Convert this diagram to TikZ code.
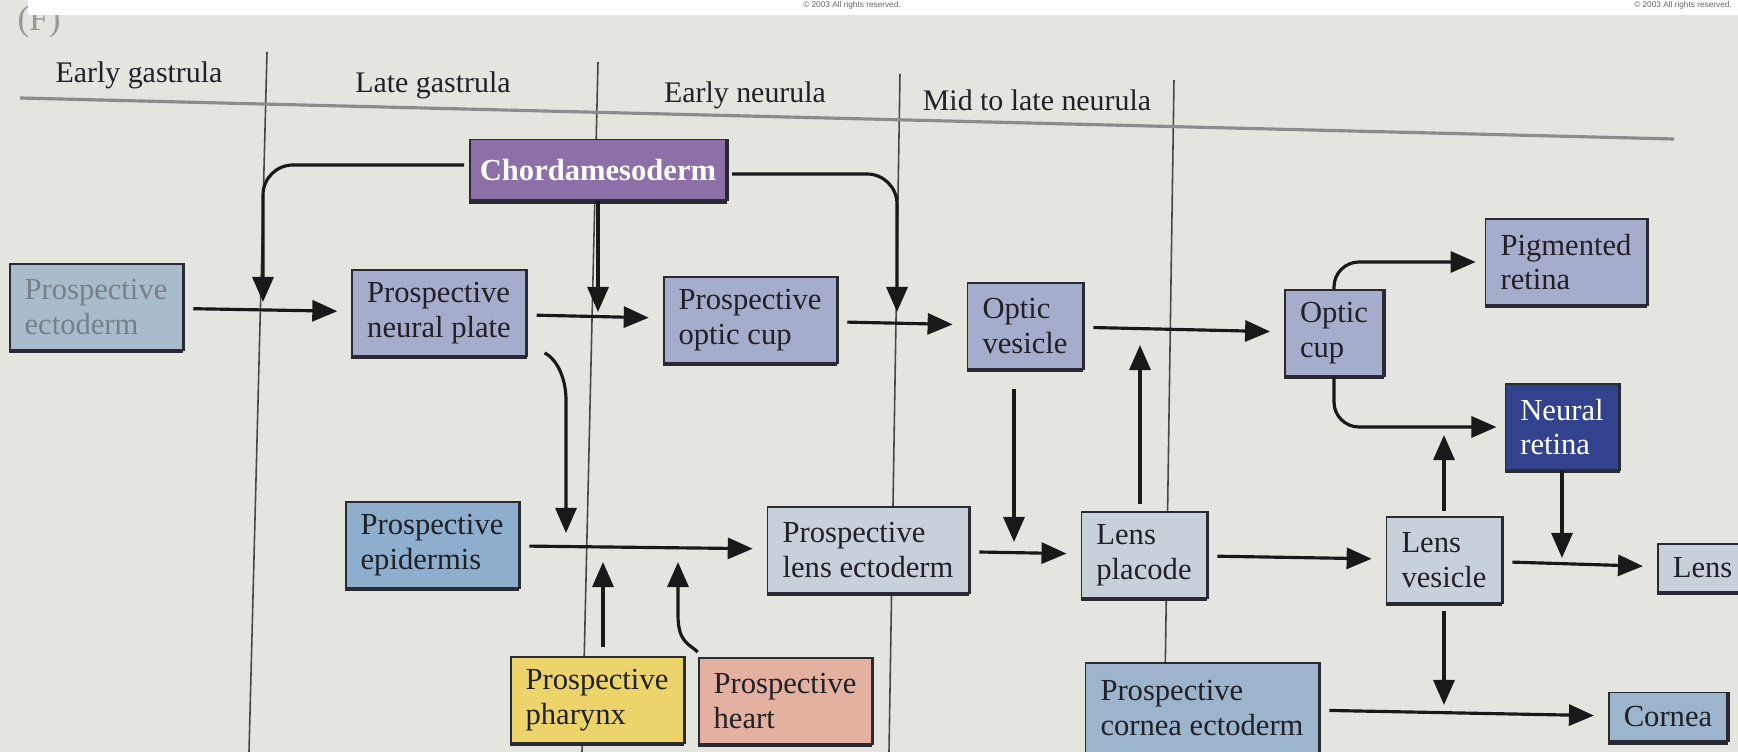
\documentclass[tikz,border=0pt]{standalone}
\usepackage{fontspec}
\setmainfont{Liberation Serif}
\newfontfamily\notefont{Liberation Sans}
\usetikzlibrary{arrows.meta}

\definecolor{paper}{RGB}{228,229,223}
\definecolor{edge}{RGB}{42,42,52}
\definecolor{ink}{RGB}{32,32,38}
\definecolor{lav}{RGB}{166,172,204}
\definecolor{ectofill}{RGB}{168,188,204}
\definecolor{ectotext}{RGB}{118,128,140}
\definecolor{chordafill}{RGB}{142,112,168}
\definecolor{neuretfill}{RGB}{50,66,140}
\definecolor{epidfill}{RGB}{141,174,204}
\definecolor{lensfill}{RGB}{200,208,218}
\definecolor{corneafill}{RGB}{156,180,204}
\definecolor{pharynxfill}{RGB}{236,211,106}
\definecolor{heartfill}{RGB}{228,176,160}

\begin{document}
\begin{tikzpicture}[x=0.01cm, y=-0.01cm,
        box/.style={draw=edge, line width=0.5pt, inner xsep=1.5mm, minimum height=0.86cm,
            align=left, text=ink, font=\fontsize{8.7}{9.9}\selectfont,
            append after command={\pgfextra{\let\mainnode=\tikzlastnode}
                (\mainnode.south west) edge[line width=1.2pt, draw=edge] (\mainnode.south east)
                (\mainnode.south east) edge[line width=1pt, draw=edge] (\mainnode.north east)}},
        stage/.style={text=ink, font=\fontsize{8.5}{10}\selectfont},
        divider/.style={line width=0.45pt, draw=black!72},
        header/.style={line width=0.9pt, draw=black!45},
        arr/.style={line width=0.9pt, draw=black!90, -{Triangle[length=2.5mm,width=2.1mm]},
            shorten <=0.1cm, shorten >=0.14cm},
        note/.style={inner sep=0pt, text=black!60, font=\notefont\fontsize{2.35}{2.6}\selectfont}]

                \useasboundingbox (0,0) rectangle (1738,752);
                \fill[paper] (0,0) rectangle (1738,752);

                % Panel letter and page strip
                \node[text=black!40, font=\fontsize{10}{11}\selectfont] (panel) at (39,22) {(F)};
                \fill[white] (28,0) rectangle (1738,15);
                \node[note] (copyl) at (852,5) {© 2003 All rights reserved.};
                \node[note] (copyr) at (1683,5) {© 2003 All rights reserved.};

                % Stage dividers and header
                \draw[divider] (267,52) -- (249,752);
                \draw[divider] (598,62) -- (582,752);
                \draw[divider] (900,74) -- (889,752);
                \draw[divider] (1174,80) -- (1164,752);
                \draw[header] (20,98) -- (1674,139);

                \node[stage] (egastr) at (139,75) {Early gastrula};
                \node[stage] (lgastr) at (433,85) {Late gastrula};
                \node[stage] (eneur) at (745,95) {Early neurula};
                \node[stage] (mlneur) at (1037,100) {Mid to late neurula};

                % Tissues
                \node[box, fill=ectofill, text=ectotext] (ecto) at (96,307) {Prospective\\ectoderm};
                \node[box, fill=lav] (np) at (439,313) {Prospective\\neural plate};
                \node[box, fill=lav] (pocup) at (750,320) {Prospective\\optic cup};
                \node[box, fill=chordafill, text=white, inner xsep=1mm, minimum height=0.61cm,
                    font=\fontsize{8.7}{9.9}\selectfont\bfseries] (chorda) at (598,170) {Chordamesoderm};
                \node[box, fill=lav] (ovesicle) at (1025,326) {Optic\\vesicle};
                \node[box, fill=lav] (ocup) at (1334,333) {Optic\\cup};
                \node[box, fill=lav] (pigret) at (1566,262) {Pigmented\\retina};
                \node[box, fill=neuretfill, text=white] (neuret) at (1562,427) {Neural\\retina};
                \node[box, fill=epidfill] (epid) at (432,545) {Prospective\\epidermis};
                \node[box, fill=lensfill] (lensect) at (868,550) {Prospective\\lens ectoderm};
                \node[box, fill=lensfill] (placode) at (1144,555) {Lens\\placode};
                \node[box, fill=lensfill] (lvesicle) at (1444,560) {Lens\\vesicle};
                \node[box, fill=lensfill, minimum height=0.48cm, anchor=west] (lens) at (1657,568) {Lens};
                \node[box, fill=pharynxfill] (pharynx) at (597,700) {Prospective\\pharynx};
                \node[box, fill=heartfill] (heart) at (785,701) {Prospective\\heart};
                \node[box, fill=corneafill, minimum height=0.9cm] (corect) at (1202,708) {Prospective\\cornea ectoderm};
                \node[box, fill=corneafill, minimum height=0.49cm] (cornea) at (1668,717) {Cornea};

                % Junctions on the main arrows
                \coordinate (j1) at (263,311);
                \coordinate (j3) at (897,323);
                \coordinate (j4) at (566,546);
                \coordinate (j5) at (603,547);
                \coordinate (j6) at (678,547);
                \coordinate (j7) at (1014,552);
                \coordinate (j8) at (1140,329);

                % Main sequence
                \draw[arr] (ecto) -- (np);
                \draw[arr] (np) -- (pocup);
                \draw[arr] (pocup) -- (ovesicle);
                \draw[arr] (ovesicle) -- (ocup);
                \draw[arr] (epid) -- (lensect);
                \draw[arr] (lensect) -- (placode);
                \draw[arr] (placode) -- (lvesicle);
                \draw[arr] (lvesicle) -- (lens);
                \draw[arr] (corect) -- (cornea);

                % Inductions
                \draw[arr, rounded corners=0.3cm, shorten <=0.05cm, shorten >=0.09cm]
                    ([yshift=0.05cm]chorda.west) -| (j1);
                \draw[arr, shorten <=0pt, shorten >=0.01cm] (chorda) -- (chorda |- np);
                \draw[arr, rounded corners=0.3cm, shorten <=0.05cm, shorten >=0.11cm]
                    ([yshift=-0.04cm]chorda.east) -| (j3);
                \draw[arr, shorten <=0pt, shorten >=0.13cm]
                    ([xshift=0.18cm, yshift=0.04cm]np.south east) .. controls +(12,6) and +(0,-22) .. (566,400) -- (j4);
                \draw[arr, shorten <=0.09cm, shorten >=0.15cm] (pharynx.north -| j5) -- (j5);
                \draw[arr, shorten <=0pt, shorten >=0.15cm]
                    ([yshift=0.05cm]heart.north west) .. controls +(-8,-8) and +(0,28) .. (678,615) -- (j6);
                \draw[arr, shorten <=0.19cm, shorten >=0.1cm] (ovesicle.south -| j7) -- (j7);
                \draw[arr, shorten <=0.07cm, shorten >=0.16cm] (placode.north -| j8) -- (j8);
                \draw[arr, rounded corners=0.25cm, shorten <=0pt, shorten >=0.09cm] (ocup.north) |- (pigret);
                \draw[arr, rounded corners=0.25cm, shorten <=0pt, shorten >=0.08cm] (ocup.south) |- (neuret);
                \draw[arr, shorten <=0.05cm, shorten >=0.08cm] (lvesicle) -- (lvesicle |- neuret);
                \draw[arr, shorten <=0pt, shorten >=0.1cm] (neuret) -- (neuret |- lens);
                \draw[arr, shorten <=0.07cm, shorten >=0.12cm] (lvesicle) -- (lvesicle |- cornea);
            \end{tikzpicture}
\end{document}
